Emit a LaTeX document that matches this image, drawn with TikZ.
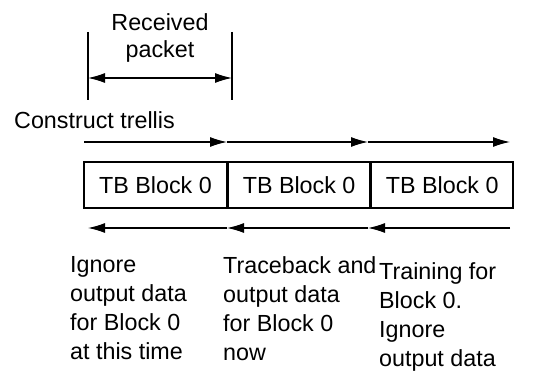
\documentclass[tikz,border=0pt]{standalone}
\usepackage{fontspec}
\setmainfont{Liberation Sans}
\usetikzlibrary{arrows.meta}
\tikzset{
  lbl/.style={font=\fontsize{23.3}{29}\selectfont, inner sep=0pt, align=left},
  blk/.style={draw, line width=1.6pt, minimum height=46pt, inner sep=0pt, font=\fontsize{23.3}{29}\selectfont},
  flow/.style={line width=1.2pt, -{Latex[length=17pt,width=10pt]}}
}

\begin{document}
\begin{tikzpicture}[x=1pt, y=-1pt]
		%%%%% START %%%%%
		\useasboundingbox (0, 0) rectangle (536, 371);
		
		% received packet span
		\node[lbl, align=center, anchor=north, font=\fontsize{23.3}{27}\selectfont] (pkt) at (160, 13) {Received\\packet};
		\coordinate (pktL) at (88, 78);
		\coordinate (pktR) at (232, 78);
		\draw[line width=1.2pt] (88, 32) -- (88, 100);
		\draw[line width=1.2pt] (232, 32) -- (232, 100);
		\draw[line width=1.2pt, {Latex[length=17pt,width=10pt]}-{Latex[length=17pt,width=10pt]}] (pktL) -- (pktR);
		
		\node[lbl, anchor=base west] (trellis) at (14, 129) {Construct trellis};
		
		% traceback blocks
		\node[blk, minimum width=143pt] (blkA) at (155.5, 185) {TB Block 0};
		\node[blk, minimum width=141pt, anchor=west] (blkB) at (blkA.east) {TB Block 0};
		\node[blk, minimum width=142pt, anchor=west] (blkC) at (blkB.east) {TB Block 0};
		
		% forward arrows
		\coordinate (f0) at (84, 142);
		\coordinate (f1) at (227, 142);
		\coordinate (f2) at (368, 142);
		\coordinate (f3) at (510, 142);
		\draw[flow] (f0) -- (f1);
		\draw[flow] (f1) -- (f2);
		\draw[flow] (f2) -- (f3);
		
		% backward arrows
		\coordinate (r0) at (88, 228);
		\coordinate (r1) at (227, 228);
		\coordinate (r2) at (368, 228);
		\coordinate (r3) at (510, 228);
		\draw[flow] (r3) -- (r2);
		\draw[flow] (r2) -- (r1);
		\draw[flow] (r1) -- (r0);
		
		\node[lbl, anchor=north west] (noteA) at (70, 256) {Ignore\\output data\\for Block 0\\at this time};
		\node[lbl, anchor=north west] (noteB) at (223, 256) {Traceback and\\output data\\for Block 0\\now};
		\node[lbl, anchor=north west] (noteC) at (379, 262) {Training for\\Block 0.\\Ignore\\output data};
		%%%%% END %%%%%
	\end{tikzpicture}
\end{document}
